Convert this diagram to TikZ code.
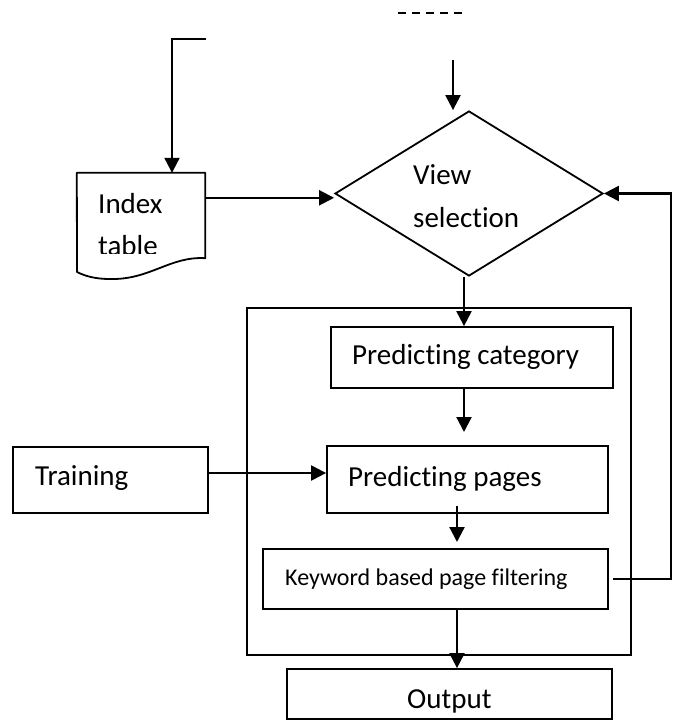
\documentclass[tikz,border=0pt]{standalone}
\usepackage{fontspec}
\setmainfont[Ligatures={NoCommon,NoContextual}]{Carlito}
\usetikzlibrary{arrows.meta,shapes.geometric}
\begin{document}
\begin{tikzpicture}[x=1pt,y=-1pt,
  box/.style={draw, line width=1.8pt, inner sep=0pt},
  lbl/.style={anchor=base west, inner sep=0pt, font=\fontsize{29}{35}\selectfont},
  smalllbl/.style={anchor=base west, inner sep=0pt, font=\fontsize{24}{29}\selectfont},
  arr/.style={line width=2.2pt, -{Triangle[length=15pt,width=15pt]}}]
\useasboundingbox (0,0) rectangle (676,720);

% outer frame around the prediction stages
\node[box, minimum width=384pt, minimum height=347pt] (frame) at (439,481.5) {};

% decision diamond
\node[box, shape=diamond, minimum width=268pt, minimum height=165pt] (vs) at (469,193.5) {};
\node[lbl] (t-view) at (413,184) {View};
\node[lbl] (t-sel) at (413,227) {selection};

% index table document
\node[inner sep=0pt, minimum width=128pt, minimum height=85pt] (doc) at (141,215.5) {};
\draw[line width=1.8pt, line join=round]
  (doc.north west) -- (doc.north east) -- (doc.south east)
  .. controls (170,256) and (150,280) .. (110,279)
  .. controls (95,279) and (85,276) .. (77,272) -- cycle;
\node[lbl] (t-index) at (98,213) {Index};
\begin{scope}
  \clip (77,173) rectangle (205,253);
  \node[lbl] (t-table) at (98,255) {table};
\end{scope}

% process boxes
\node[box, minimum width=282pt, minimum height=61pt] (cat) at (472,357.5) {};
\node[lbl] (t-cat) at (352,364) {Predicting category};
\node[box, minimum width=281pt, minimum height=67pt] (pages) at (467.5,479.5) {};
\node[lbl] (t-pages) at (348,486) {Predicting pages};
\node[box, minimum width=345pt, minimum height=60pt] (kw) at (435.5,579) {};
\node[smalllbl] (t-kw) at (285,585) {Keyword based page filtering};
\node[box, minimum width=195pt, minimum height=66pt] (train) at (110.5,480) {};
\node[lbl] (t-train) at (35,485) {Training};
\node[box, minimum width=325pt, minimum height=50pt] (out) at (449.5,694) {};
\node[lbl] (t-out) at (407,708) {Output};

% dashed mark at the top
\coordinate (dashA) at (398,13);
\coordinate (dashB) at (462,13);
\draw[line width=1.8pt, dash pattern=on 8pt off 6pt] (dashA) -- (dashB);

% connectors
\coordinate (intop) at (453,60);
\draw[arr] (intop) -- (intop |- vs.north);

\coordinate (stub) at (206,39);
\coordinate (bend) at (172,39);
\draw[arr] (stub) -- (bend) -- (bend |- doc.north);

\draw[arr] ([yshift=-25pt]doc.north east) coordinate (ia) -- (ia -| vs.west);

\coordinate (colA) at (464,0);
\coordinate (colB) at (457,0);
\coordinate (catstop) at (464,432);
\coordinate (pgstart) at (457,506);
\coordinate (pgstop) at (457,542);

\draw[arr] (vs.south -| colA) -- (cat.north -| colA);
\draw[arr] (cat.south -| colA) -- (catstop);
\draw[arr] (train.east |- 0,473) -- (pages.west |- 0,473);
\draw[arr] (pgstart) -- (pgstop);
\draw[arr] (kw.south -| colB) -- (out.north -| colB);

% feedback loop back to the decision
\draw[arr] ([xshift=4pt]kw.east) -- ++(58,0) |- (vs.east);
\end{tikzpicture}
\end{document}
